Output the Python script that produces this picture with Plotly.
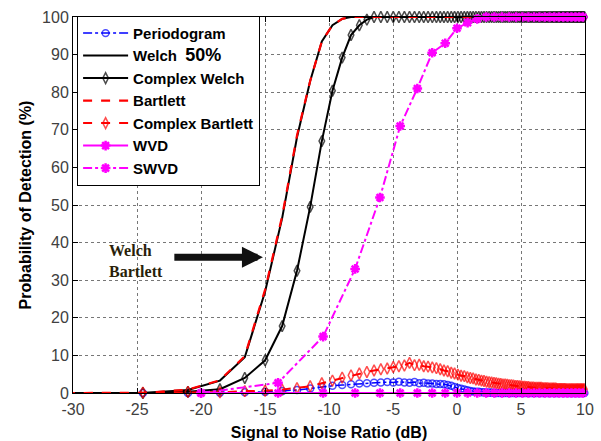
import plotly.graph_objects as go

# SNR grid (dB) for spectral estimators
snr_db = [-30.56, -24.54, -21.02, -18.52, -16.58, -14.99, -13.66, -12.50, -11.47, -10.56,
          -9.73, -8.97, -8.28, -7.63, -7.04, -6.48, -5.95, -5.45, -4.98, -4.54,
          -4.11, -3.71, -3.32, -2.95, -2.60, -2.26, -1.93, -1.61, -1.31, -1.02,
          -0.73, -0.45, -0.19, 0.07, 0.32, 0.57, 0.81, 1.04, 1.26, 1.48,
          1.70, 1.91, 2.11, 2.31, 2.51, 2.70, 2.89, 3.07, 3.25, 3.42,
          3.59, 3.76, 3.93, 4.09, 4.25, 4.41, 4.56, 4.71, 4.86, 5.01,
          5.15, 5.29, 5.43, 5.57, 5.70, 5.83, 5.96, 6.09, 6.22, 6.35,
          6.47, 6.59, 6.71, 6.83, 6.94, 7.06, 7.17, 7.29, 7.40, 7.51,
          7.61, 7.72, 7.82, 7.93, 8.03, 8.13, 8.23, 8.33, 8.43, 8.53,
          8.62, 8.72, 8.81, 8.91, 9.00, 9.09, 9.18, 9.27, 9.36, 9.44,
          9.53, 9.62, 9.70, 9.78, 9.87, 9.95]

# SNR grid (dB) for WVD / SWVD
snr_wvd = [-20.00, -13.98, -10.46, -7.96, -6.02, -4.44, -3.10, -1.94, -0.92, 0.00,
           0.83, 1.58, 2.28, 2.92, 3.52, 4.08, 4.61, 5.11, 5.58, 6.02,
           6.44, 6.85, 7.23, 7.60, 7.96, 8.30, 8.63, 8.94, 9.25, 9.54, 9.83]

periodogram = ([0, 0, 0, 0.1, 0.2, 0.3, 0.5, 0.8, 1.2, 1.6,
                1.9, 2.1, 2.3, 2.5, 2.6, 2.7, 2.8, 2.9, 2.8, 3.0,
                2.8, 2.7, 2.9, 2.6, 2.7, 2.5, 2.5, 2.4, 2.4, 2.3,
                2.1, 1.9, 1.6, 1.3, 1.1, 0.9, 0.7, 0.5, 0.4, 0.3,
                0.3, 0.2, 0.2, 0.1, 0.1, 0.1] + [0] * 60)

welch = [0, 0, 0.8, 3.3, 9.5, 27, 46.5, 68, 83, 93.5, 97.8, 99.5] + [100] * 94

complex_welch = ([0, 0, 0.3, 1.0, 4.0, 8.7, 17.8, 32.5, 49.5, 67,
                  80.4, 89.2, 95.2, 97.8, 99.3] + [100] * 91)

bartlett = [0, 0, 0.9, 3.4, 9.8, 27.5, 47, 68.5, 83, 93.5, 97.8, 99.5] + [100] * 94

complex_bartlett = ([0, 0.1, 0.3, 0.2, 0.5, 0.6, 0.9, 1.3, 1.8, 2.6,
                     3.3, 4.1, 4.7, 5.2, 5.6, 6.0, 6.3, 6.5, 6.9, 7.1,
                     7.3, 8.0, 7.4, 7.5, 7.1, 7.0, 6.8, 6.6, 6.3, 6.0,
                     5.8, 5.4, 5.2, 4.9, 4.6, 4.5, 4.2, 4.0, 3.9, 3.6,
                     3.5, 3.3, 3.2, 3.0, 2.9, 2.8, 2.7, 2.6, 2.5, 2.4,
                     2.3, 2.3, 2.2, 2.1, 2.1, 2.0, 1.9, 1.9, 1.8, 1.8,
                     1.7, 1.7, 1.6, 1.6, 1.5, 1.5, 1.5, 1.4, 1.4, 1.4,
                     1.4, 1.4, 1.3, 1.3, 1.3, 1.3, 1.2, 1.2, 1.2, 1.2,
                     1.2, 1.2, 1.1, 1.1, 1.1, 1.1, 1.1, 1.1, 1.1, 1.0,
                     1.0, 1.0, 1.0, 1.0, 1.0] + [1.0] * 11)

wvd = [0] * 31

swvd = [0, 2.7, 15, 33, 52, 71, 81, 90.5, 93, 97, 98.5, 99.5] + [100] * 19

x_ticks = [-30, -25, -20, -15, -10, -5, 0, 5, 10]
y_ticks = [0, 10, 20, 30, 40, 50, 60, 70, 80, 90, 100]

BLUE = "#0000ff"
RED = "#ff0000"
MAG = "#ff00ff"

n = len(snr_db)
msize_main = [0] + [7] * (n - 1)  # first grid point lies left of the axis

fig = go.Figure()
fig.add_trace(go.Scatter(
    x=snr_db, y=periodogram, name="Periodogram", mode="lines+markers",
    line=dict(color=BLUE, width=1.5, dash="dashdot"),
    marker=dict(symbol="circle-open", size=msize_main, color=BLUE, line=dict(width=1.5)),
    cliponaxis=False))
fig.add_trace(go.Scatter(
    x=snr_db, y=welch, name='Welch  <span style="font-size:18px">50%</span>', mode="lines",
    line=dict(color="black", width=2)))
fig.add_trace(go.Scatter(
    x=snr_db, y=complex_welch, name="Complex Welch", mode="lines+markers",
    line=dict(color="black", width=2),
    marker=dict(symbol="diamond-tall-open", size=[0] + [8] * (n - 1), color="black",
                line=dict(width=1.5)),
    cliponaxis=False))
fig.add_trace(go.Scatter(
    x=snr_db, y=bartlett, name="Bartlett", mode="lines",
    line=dict(color=RED, width=2.2, dash="dash")))
fig.add_trace(go.Scatter(
    x=snr_db, y=complex_bartlett, name="Complex Bartlett", mode="lines+markers",
    line=dict(color=RED, width=2, dash="dash"),
    marker=dict(symbol="diamond-tall-open", size=[0] + [8] * (n - 1), color=RED,
                line=dict(width=1.5)),
    cliponaxis=False))
fig.add_trace(go.Scatter(
    x=snr_wvd, y=wvd, name="WVD", mode="lines+markers",
    line=dict(color=MAG, width=2),
    marker=dict(symbol="asterisk-open", size=8, color=MAG, line=dict(width=2.5, color=MAG)),
    cliponaxis=False))
fig.add_trace(go.Scatter(
    x=snr_wvd, y=swvd, name="SWVD", mode="lines+markers",
    line=dict(color=MAG, width=2, dash="dashdot"),
    marker=dict(symbol="asterisk-open", size=8, color=MAG, line=dict(width=2.5, color=MAG)),
    cliponaxis=False))

axis_common = dict(
    showline=True, linecolor="black", linewidth=1, mirror="ticks",
    ticks="inside", ticklen=5, tickcolor="black",
    showgrid=True, gridcolor="#777777", gridwidth=1, griddash="dot",
    zeroline=False, automargin=False,
    tickfont=dict(family="Liberation Sans, Arial", size=16, color="#404040"),
    title_font=dict(family="Liberation Sans, Arial", size=16, color="black", weight="bold"),
)

fig.update_xaxes(range=[-30, 10], tickvals=x_ticks, ticktext=[str(v) for v in x_ticks],
                 title_text="Signal to Noise Ratio (dB)", title_standoff=10,
                 ticklabelstandoff=2, **axis_common)
fig.update_yaxes(range=[0, 100], tickvals=y_ticks, ticktext=[str(v) for v in y_ticks],
                 title_text="Probability of Detection (%)", title_standoff=6, **axis_common)

fig.add_annotation(x=-27.34, y=35, xref="x", yref="y", xanchor="left", yanchor="middle",
                   text="<b>Welch<br>Bartlett</b>", showarrow=False, align="left",
                   font=dict(family="Liberation Serif, Times New Roman", size=16, color="#2a1f0a"))
fig.add_annotation(x=-15.16, y=36.1, xref="x", yref="y", ax=-22.2, ay=36.1,
                   axref="x", ayref="y", text="", showarrow=True,
                   arrowhead=2, arrowwidth=7, arrowsize=0.6, arrowcolor="#111111")

fig.update_layout(
    width=601, height=441,
    margin=dict(l=73, r=16, t=17, b=48),
    paper_bgcolor="white", plot_bgcolor="white",
    showlegend=True,
    legend=dict(x=0.008, y=1.003, xanchor="left", yanchor="top",
                bgcolor="white", bordercolor="black", borderwidth=1,
                font=dict(family="Liberation Sans, Arial", size=15, color="black", weight="bold"),
                itemwidth=45, tracegroupgap=0),
)

fig.write_html("out.html")
